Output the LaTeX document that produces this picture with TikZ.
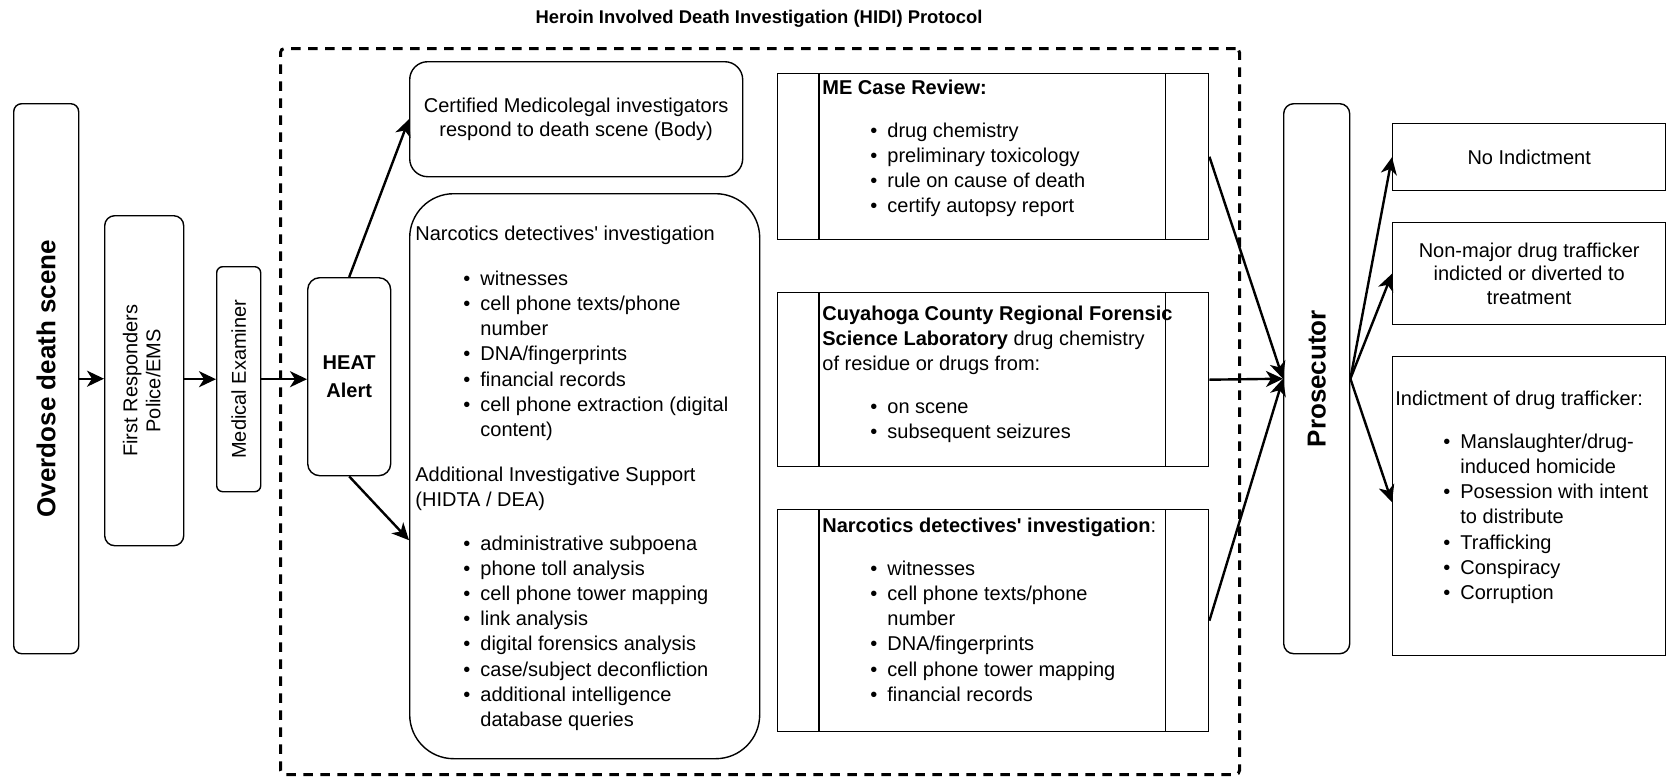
\documentclass[tikz,border=0pt]{standalone}
\usepackage{fontspec}
\usepackage{graphicx}
\setmainfont{Liberation Sans}
\usetikzlibrary{arrows.meta,calc}
\newcommand\bul[1]{\hspace*{24pt}\makebox[8.5pt][l]{\textbullet}#1}
\newcommand\cnt[1]{\hspace*{32.5pt}#1}
\begin{document}
\begin{tikzpicture}[x=0.5pt,y=-0.5pt,
  base/.style={draw, line width=0.7pt, inner sep=0pt, anchor=north west, align=center, font=\fontsize{10}{12}\selectfont},
  rbox/.style={base, rounded corners=5pt},
  pbox/.style={base},
  arr/.style={-{Stealth[length=8.5pt,width=8pt,inset=2.5pt]}, line width=1.2pt},
  txt/.style={inner sep=0pt, anchor=north west, align=left, font=\fontsize{10}{12.6}\selectfont},
  innerline/.style={line width=0.7pt}]
\useasboundingbox (0,0) rectangle (1667,777);

% title and dashed frame
\node[font=\bfseries\fontsize{9.2}{11}\selectfont] (title) at (759,19) {Heroin Involved Death Investigation (HIDI) Protocol};
\node[draw, dash pattern=on 4.75pt off 3.75pt, line width=1.5pt, rounded corners=2pt, minimum width=479.5pt, minimum height=363pt, anchor=north west, inner sep=0pt] (hidi) at (279,47) {};

% left chain
\node[rbox, rounded corners=4pt, minimum width=32.5pt, minimum height=275pt] (ods) at (13,103)
  {\rotatebox{90}{\fontsize{13}{15}\selectfont\bfseries Overdose death scene}};
\node[rbox, minimum width=39.5pt, minimum height=165pt] (fr) at (104,215)
  {\rotatebox{90}{\fontsize{10}{11.5}\selectfont\begin{tabular}{@{}c@{}}First Responders\\Police/EMS\end{tabular}}};
\node[rbox, rounded corners=3pt, minimum width=22pt, minimum height=112.5pt] (me) at (216,266)
  {\rotatebox{90}{Medical Examiner}};
\node[rbox, rounded corners=6pt, minimum width=41.5pt, minimum height=99pt, font=\bfseries\fontsize{10}{14}\selectfont] (heat) at (307,277)
  {HEAT\\Alert};

% investigation boxes
\node[rbox, rounded corners=9pt, minimum width=166.5pt, minimum height=57.5pt] (cert) at (409,61)
  {Certified Medicolegal investigators\\respond to death scene (Body)};
\node[rbox, rounded corners=22pt, minimum width=175pt, minimum height=282.5pt] (narc) at (409,193) {};
\node[txt] (narct) at (415,222) {\strut Narcotics detectives\textquotesingle{} investigation\\[10pt]
\bul{witnesses}\\
\bul{cell phone texts/phone}\\
\cnt{number}\\
\bul{DNA/fingerprints}\\
\bul{financial records}\\
\bul{cell phone extraction (digital}\\
\cnt{content)}\\[10pt]
Additional Investigative Support\\
(HIDTA / DEA)\\[9pt]
\bul{administrative subpoena}\\
\bul{phone toll analysis}\\
\bul{cell phone tower mapping}\\
\bul{link analysis}\\
\bul{digital forensics analysis}\\
\bul{case/subject deconfliction}\\
\bul{additional intelligence}\\
\cnt{database queries}};

% process boxes
\node[pbox, minimum width=215.5pt, minimum height=83pt] (mecr) at (777,73) {};
\node[pbox, minimum width=215.5pt, minimum height=87pt] (lab) at (777,292) {};
\node[pbox, minimum width=215.5pt, minimum height=111pt] (narc2) at (777,509) {};
\foreach \n in {mecr,lab,narc2}{
  \draw[innerline] ([xshift=21pt]\n.north west) -- ([xshift=21pt]\n.south west);
  \draw[innerline] ([xshift=-22pt]\n.north east) -- ([xshift=-22pt]\n.south east);
}
\node[txt] (mecrt) at (822,76) {\strut\textbf{ME Case Review:}\\[9pt]
\bul{drug chemistry}\\
\bul{preliminary toxicology}\\
\bul{rule on cause of death}\\
\bul{certify autopsy report}};
\node[txt] (labt) at (822,302) {\strut\textbf{Cuyahoga County Regional Forensic}\\
\textbf{Science Laboratory} drug chemistry\\
of residue or drugs from:\\[9pt]
\bul{on scene}\\
\bul{subsequent seizures}};
\node[txt] (narc2t) at (822,514) {\strut\textbf{Narcotics detectives\textquotesingle{} investigation}:\\[9pt]
\bul{witnesses}\\
\bul{cell phone texts/phone}\\
\cnt{number}\\
\bul{DNA/fingerprints}\\
\bul{cell phone tower mapping}\\
\bul{financial records}};

% prosecutor and outcomes
\node[rbox, rounded corners=5pt, minimum width=33pt, minimum height=275pt] (pros) at (1283,103)
  {\rotatebox{90}{\fontsize{13}{15}\selectfont\bfseries Prosecutor}};
\node[pbox, minimum width=136.5pt, minimum height=33.5pt] (noind) at (1392,123) {No Indictment};
\node[pbox, minimum width=136.5pt, minimum height=51pt, font=\fontsize{10}{11.75}\selectfont] (nonmaj) at (1392,222)
  {Non-major drug trafficker\\indicted or diverted to\\treatment};
\node[pbox, minimum width=136.5pt, minimum height=149.5pt] (ind) at (1392,356) {};
\node[txt] (indt) at (1395,387) {\strut Indictment of drug trafficker:\\[9pt]
\bul{Manslaughter/drug-}\\
\cnt{induced homicide}\\
\bul{Posession with intent}\\
\cnt{to distribute}\\
\bul{Trafficking}\\
\bul{Conspiracy}\\
\bul{Corruption}};

% connectors
\draw[arr] (ods.east) -- (ods.east -| fr.west);
\draw[arr] (fr.east |- me.west) -- (me.west);
\draw[arr] (me.east) -- (me.east -| heat.west);
\draw[arr] (heat.north) -- (cert.west);
\draw[arr] (heat.south) -- ([yshift=-32pt]narc.west);
\draw[arr] (mecr.east) -- (pros.west);
\draw[arr] (lab.east) -- (pros.west);
\draw[arr] (narc2.east) -- (pros.west);
\draw[arr] (pros.east) -- (noind.west);
\draw[arr] (pros.east) -- (nonmaj.west);
\draw[arr] (pros.east) -- ([yshift=2pt]ind.west);
\end{tikzpicture}
\end{document}
